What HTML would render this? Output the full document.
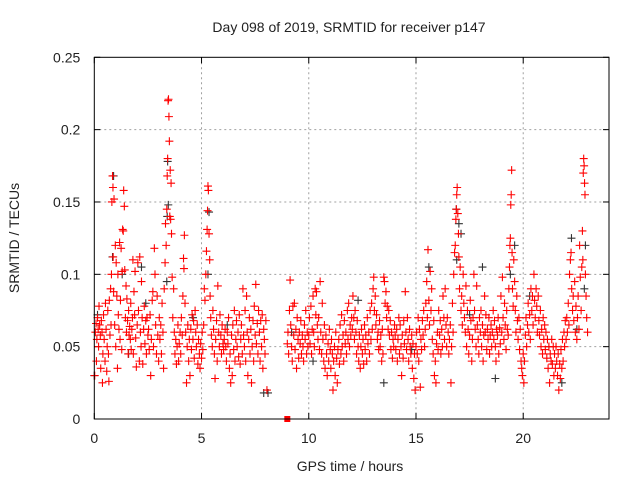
<!DOCTYPE html>
<html><head><meta charset="utf-8">
<style>
html,body{margin:0;padding:0;background:#fff;}
svg{display:block;font-family:"Liberation Sans",Arial,sans-serif;}
</style></head>
<body>
<svg id="chart" width="640" height="480" viewBox="0 0 640 480" xmlns="http://www.w3.org/2000/svg">
<rect x="0" y="0" width="640" height="480" fill="#fff"/>
<g id="grid"></g>
<g id="ticks"></g>
<g id="series-gray"></g>
<g id="series-red"></g>
<rect x="94.3" y="57.3" width="514.7" height="361.7" fill="none" stroke="#000" stroke-width="1"/>
<text x="349" y="32" font-size="14" text-anchor="middle" fill="#222">Day 098 of 2019, SRMTID for receiver p147</text>
<text x="350" y="471" font-size="14" text-anchor="middle" fill="#222">GPS time / hours</text>
<text x="0" y="0" font-size="14" text-anchor="middle" fill="#222" transform="translate(19,238) rotate(-90)">SRMTID / TECUs</text>
</svg>
<script>
const xTicks = [0,5,10,15,20];
const yTicks = [0,0.05,0.1,0.15,0.2,0.25];
const yTickLabels = ["0","0.05","0.1","0.15","0.2","0.25"];
const redHours = [0.02,0.05,0.08,0.1,0.12,0.15,0.18,0.2,0.22,0.25,0.28,0.3,0.33,0.36,0.38,0.4,0.43,0.46,0.5,0.52,0.55,0.58,0.6,0.63,0.66,0.68,0.7,0.73,0.76,0.78,0.8,0.82,0.85,0.87,0.88,0.9,0.92,0.95,0.98,1.0,
1.02,1.05,1.08,1.1,1.12,1.15,1.18,1.2,1.22,1.25,1.28,1.3,1.32,1.35,1.37,1.4,1.42,1.45,1.48,1.5,1.52,1.55,1.58,1.6,1.62,1.65,1.68,1.7,1.72,1.75,1.78,1.8,1.82,1.85,1.88,1.9,1.93,1.96,2.0,
2.03,2.06,2.1,2.12,2.15,2.18,2.2,2.23,2.26,2.3,2.33,2.36,2.4,2.43,2.46,2.5,2.53,2.56,2.6,2.63,2.66,2.7,2.73,2.76,2.8,2.83,2.86,2.9,2.93,2.96,3.0,
3.03,3.06,3.1,3.13,3.16,3.2,3.23,3.26,3.3,3.32,3.35,3.38,3.4,3.42,3.44,3.46,3.48,3.5,3.52,3.54,3.56,3.58,3.6,3.63,3.66,3.7,3.73,3.76,3.8,3.83,3.86,3.9,3.93,3.96,4.0,
4.03,4.06,4.1,4.13,4.16,4.18,4.2,4.23,4.26,4.3,4.33,4.36,4.4,4.43,4.46,4.5,4.53,4.56,4.6,4.63,4.66,4.7,4.73,4.76,4.8,4.83,4.86,4.9,4.93,4.96,5.0,
5.03,5.06,5.1,5.13,5.16,5.2,5.23,5.26,5.28,5.3,5.32,5.35,5.38,5.4,5.43,5.46,5.5,5.53,5.56,5.6,5.63,5.66,5.7,5.73,5.76,5.8,5.83,5.86,5.9,5.93,5.96,6.0,
6.03,6.06,6.1,6.13,6.16,6.2,6.23,6.26,6.3,6.33,6.36,6.4,6.43,6.46,6.5,6.53,6.56,6.6,6.63,6.66,6.7,6.73,6.76,6.8,6.83,6.86,6.9,6.93,6.96,7.0,
7.03,7.06,7.1,7.13,7.16,7.2,7.23,7.26,7.3,7.33,7.36,7.4,7.43,7.46,7.5,7.53,7.56,7.6,7.63,7.66,7.7,7.73,7.76,7.8,7.83,7.86,7.9,7.93,7.96,8.0,8.05,
9.0,9.03,9.06,9.1,9.13,9.16,9.2,9.23,9.26,9.3,9.33,9.36,9.4,9.43,9.46,9.5,9.53,9.56,9.6,9.63,9.66,9.7,9.73,9.76,9.8,9.83,9.86,9.9,9.93,9.96,10.0,
10.03,10.06,10.1,10.13,10.16,10.2,10.23,10.26,10.3,10.33,10.36,10.4,10.43,10.46,10.5,10.53,10.56,10.6,10.63,10.66,10.7,10.73,10.76,10.8,10.83,10.86,10.9,10.93,10.96,11.0,
11.03,11.06,11.1,11.13,11.16,11.2,11.23,11.26,11.3,11.33,11.36,11.4,11.43,11.46,11.5,11.53,11.56,11.6,11.63,11.66,11.7,11.73,11.76,11.8,11.83,11.86,11.9,11.93,11.96,12.0,
12.03,12.06,12.1,12.13,12.16,12.2,12.23,12.26,12.3,12.33,12.36,12.4,12.43,12.46,12.5,12.53,12.56,12.6,12.63,12.66,12.7,12.73,12.76,12.8,12.83,12.86,12.9,12.93,12.96,13.0,
13.03,13.06,13.1,13.13,13.16,13.2,13.23,13.26,13.3,13.33,13.36,13.4,13.43,13.46,13.5,13.53,13.56,13.6,13.63,13.66,13.7,13.73,13.76,13.8,13.83,13.86,13.9,13.93,13.96,14.0,
14.03,14.06,14.1,14.13,14.16,14.2,14.23,14.26,14.3,14.33,14.36,14.4,14.43,14.46,14.5,14.53,14.56,14.6,14.63,14.66,14.7,14.73,14.76,14.8,14.83,14.86,14.9,14.93,14.96,15.0,
15.03,15.06,15.1,15.13,15.16,15.2,15.23,15.26,15.3,15.33,15.36,15.4,15.43,15.46,15.5,15.53,15.56,15.6,15.63,15.66,15.7,15.73,15.76,15.8,15.83,15.86,15.9,15.93,15.96,16.0,
16.03,16.06,16.1,16.13,16.16,16.2,16.23,16.26,16.3,16.33,16.36,16.4,16.43,16.46,16.5,16.53,16.56,16.6,16.63,16.66,16.7,16.73,16.76,16.8,16.83,16.86,16.88,16.9,16.92,16.95,16.98,17.0,
17.03,17.06,17.1,17.13,17.16,17.2,17.23,17.26,17.3,17.33,17.36,17.4,17.43,17.46,17.5,17.53,17.56,17.6,17.63,17.66,17.7,17.73,17.76,17.8,17.83,17.86,17.9,17.93,17.96,18.0,
18.03,18.06,18.1,18.13,18.16,18.2,18.23,18.26,18.3,18.33,18.36,18.4,18.43,18.46,18.5,18.53,18.56,18.6,18.63,18.66,18.7,18.73,18.76,18.8,18.83,18.86,18.9,18.93,18.96,19.0,
19.03,19.06,19.1,19.13,19.16,19.2,19.23,19.26,19.3,19.33,19.36,19.38,19.4,19.42,19.44,19.46,19.48,19.5,19.53,19.56,19.6,19.63,19.66,19.7,19.73,19.76,19.8,19.83,19.86,19.9,19.93,19.96,20.0,
20.03,20.06,20.1,20.13,20.16,20.2,20.23,20.26,20.3,20.33,20.36,20.4,20.43,20.46,20.5,20.53,20.56,20.6,20.63,20.66,20.7,20.73,20.76,20.8,20.83,20.86,20.9,20.93,20.96,21.0,
21.03,21.06,21.1,21.13,21.16,21.2,21.23,21.26,21.3,21.33,21.36,21.4,21.43,21.46,21.5,21.53,21.56,21.6,21.63,21.66,21.7,21.73,21.76,21.8,21.83,21.86,21.9,21.93,21.96,22.0,
22.03,22.06,22.1,22.13,22.16,22.2,22.23,22.26,22.3,22.33,22.36,22.4,22.43,22.46,22.5,22.53,22.56,22.6,22.63,22.66,22.7,22.73,22.76,22.78,22.8,22.82,22.84,22.86,22.88,22.9,22.93,22.96,23.0];
const redTec = [0.03,0.06,0.066,0.04,0.055,0.07,0.062,0.05,0.078,0.065,0.058,0.035,0.068,0.06,0.025,0.045,0.072,0.055,0.04,0.08,0.062,0.033,0.05,0.075,0.045,0.026,0.082,0.058,0.09,0.065,0.1,0.15,0.168,0.16,0.112,0.088,0.152,0.065,0.12,0.05,
0.108,0.085,0.035,0.1,0.072,0.062,0.122,0.055,0.082,0.118,0.048,0.102,0.131,0.13,0.158,0.147,0.103,0.07,0.092,0.06,0.083,0.068,0.045,0.075,0.058,0.064,0.055,0.08,0.048,0.062,0.07,0.11,0.045,0.088,0.072,0.102,0.056,0.036,0.065,
0.108,0.075,0.04,0.112,0.06,0.05,0.095,0.07,0.038,0.062,0.078,0.052,0.068,0.045,0.07,0.058,0.062,0.048,0.072,0.03,0.055,0.082,0.088,0.05,0.118,0.1,0.065,0.045,0.085,0.058,0.04,
0.07,0.055,0.065,0.045,0.08,0.06,0.035,0.09,0.108,0.135,0.12,0.145,0.168,0.18,0.22,0.221,0.209,0.192,0.14,0.172,0.138,0.163,0.128,0.098,0.07,0.09,0.06,0.045,0.055,0.038,0.05,0.065,0.04,0.052,0.06,
0.045,0.07,0.058,0.085,0.111,0.104,0.127,0.08,0.06,0.025,0.05,0.065,0.04,0.055,0.03,0.062,0.048,0.072,0.055,0.068,0.042,0.075,0.06,0.05,0.065,0.038,0.055,0.045,0.035,0.052,0.042,
0.06,0.048,0.065,0.09,0.082,0.1,0.116,0.131,0.144,0.161,0.158,0.128,0.11,0.085,0.07,0.058,0.05,0.075,0.062,0.045,0.028,0.055,0.068,0.04,0.092,0.06,0.05,0.072,0.058,0.045,0.065,0.052,
0.048,0.055,0.062,0.05,0.04,0.06,0.052,0.07,0.035,0.045,0.025,0.058,0.03,0.065,0.048,0.075,0.04,0.055,0.068,0.05,0.06,0.043,0.072,0.038,0.055,0.065,0.045,0.09,0.058,0.05,
0.075,0.04,0.085,0.06,0.03,0.055,0.07,0.045,0.062,0.025,0.05,0.068,0.04,0.078,0.058,0.093,0.052,0.066,0.045,0.075,0.06,0.04,0.068,0.05,0.072,0.035,0.062,0.055,0.045,0.068,0.02,
0.052,0.06,0.045,0.075,0.096,0.065,0.05,0.04,0.078,0.058,0.08,0.048,0.062,0.035,0.07,0.055,0.042,0.06,0.052,0.068,0.045,0.058,0.05,0.04,0.065,0.055,0.075,0.045,0.06,0.05,0.058,
0.07,0.052,0.078,0.045,0.062,0.085,0.06,0.05,0.09,0.072,0.088,0.065,0.055,0.07,0.048,0.095,0.06,0.045,0.08,0.055,0.04,0.065,0.035,0.058,0.045,0.03,0.052,0.04,0.062,0.048,
0.035,0.055,0.045,0.02,0.04,0.05,0.03,0.06,0.042,0.025,0.048,0.055,0.038,0.065,0.045,0.072,0.05,0.058,0.04,0.068,0.052,0.06,0.045,0.075,0.055,0.08,0.05,0.065,0.058,0.07,
0.062,0.085,0.07,0.055,0.075,0.06,0.045,0.068,0.05,0.04,0.058,0.035,0.05,0.062,0.045,0.055,0.038,0.065,0.048,0.058,0.04,0.07,0.052,0.06,0.045,0.075,0.055,0.08,0.062,0.09,
0.098,0.075,0.085,0.065,0.072,0.055,0.06,0.048,0.068,0.05,0.058,0.04,0.062,0.045,0.098,0.095,0.08,0.088,0.07,0.078,0.062,0.075,0.058,0.068,0.048,0.06,0.042,0.055,0.05,0.065,
0.058,0.048,0.062,0.04,0.055,0.07,0.045,0.065,0.05,0.03,0.058,0.042,0.068,0.052,0.088,0.06,0.048,0.07,0.055,0.04,0.062,0.05,0.045,0.058,0.035,0.052,0.028,0.045,0.02,0.05,
0.06,0.045,0.07,0.04,0.062,0.022,0.055,0.048,0.068,0.058,0.075,0.05,0.062,0.08,0.095,0.07,0.117,0.082,0.065,0.102,0.075,0.09,0.055,0.045,0.068,0.03,0.04,0.025,0.052,0.06,
0.048,0.075,0.058,0.068,0.045,0.062,0.05,0.085,0.07,0.055,0.09,0.065,0.05,0.07,0.06,0.045,0.055,0.065,0.025,0.05,0.08,0.06,0.1,0.115,0.12,0.138,0.145,0.155,0.16,0.142,0.128,0.112,
0.09,0.105,0.075,0.085,0.065,0.1,0.08,0.07,0.06,0.092,0.05,0.075,0.062,0.045,0.058,0.082,0.068,0.04,0.055,0.07,0.1,0.075,0.062,0.05,0.092,0.065,0.055,0.045,0.07,0.06,
0.075,0.05,0.065,0.04,0.058,0.085,0.06,0.072,0.048,0.062,0.055,0.07,0.045,0.058,0.065,0.05,0.06,0.075,0.055,0.068,0.05,0.04,0.062,0.058,0.07,0.045,0.063,0.052,0.085,0.06,
0.098,0.07,0.055,0.08,0.065,0.048,0.075,0.062,0.058,0.09,0.105,0.12,0.125,0.148,0.155,0.172,0.115,0.09,0.078,0.11,0.095,0.075,0.06,0.085,0.068,0.055,0.07,0.048,0.062,0.04,0.035,0.03,0.045,
0.025,0.04,0.058,0.07,0.05,0.065,0.08,0.06,0.072,0.055,0.09,0.075,0.085,0.065,0.1,0.082,0.07,0.09,0.078,0.06,0.085,0.068,0.058,0.075,0.05,0.062,0.045,0.07,0.055,0.065,
0.048,0.06,0.042,0.055,0.035,0.05,0.025,0.045,0.04,0.055,0.038,0.05,0.03,0.045,0.035,0.05,0.04,0.03,0.045,0.02,0.038,0.028,0.048,0.035,0.055,0.04,0.06,0.05,0.068,0.055,
0.07,0.06,0.08,0.065,0.1,0.11,0.115,0.09,0.075,0.085,0.068,0.095,0.06,0.078,0.055,0.07,0.085,0.062,0.12,0.098,0.075,0.105,0.13,0.11,0.17,0.18,0.175,0.163,0.155,0.1,0.085,0.07,0.06];
const grayHours = [0.0,0.15,0.85,0.9,1.3,1.6,2.2,2.4,3.38,3.4,3.42,3.45,4.6,5.3,5.35,6.2,7.9,8.1,9.2,10.2,12.3,13.5,14.8,15.6,16.88,16.9,17.0,17.1,17.5,18.1,18.7,19.4,19.6,20.3,21.2,21.8,22.25,22.5,22.85,22.9];
const grayTec = [0.03,0.072,0.112,0.168,0.1,0.045,0.105,0.08,0.095,0.14,0.178,0.148,0.07,0.1,0.143,0.065,0.018,0.018,0.06,0.04,0.082,0.025,0.048,0.105,0.145,0.11,0.135,0.128,0.072,0.105,0.028,0.1,0.12,0.085,0.05,0.025,0.125,0.062,0.09,0.12];
const outlierHours = [9.0];
const outlierTec = [0.0];

const L=94.3,R=609,T=57.3,B=419,XMAX=24,YMAX=0.25;
const sx=h=>L+(h/XMAX)*(R-L);
const sy=v=>B-(v/YMAX)*(B-T);
const NS="http://www.w3.org/2000/svg";
function mk(tag,attrs,parent){const e=document.createElementNS(NS,tag);for(const k in attrs)e.setAttribute(k,attrs[k]);parent.appendChild(e);return e;}
const grid=document.getElementById('grid'),ticks=document.getElementById('ticks');
xTicks.forEach((t,i)=>{
  const x=sx(t);
  if(t>0){const g=mk('line',{x1:x,y1:T,x2:x,y2:B,stroke:'#a0a0a0','stroke-dasharray':'2,3','stroke-width':1},grid);
    
    }
  const a=mk('line',{x1:x,y1:B,x2:x,y2:B-6,stroke:'#000'},ticks);
  
  
  const b=mk('line',{x1:x,y1:T,x2:x,y2:T+6,stroke:'#000'},ticks);
  
  
  const lb=mk('text',{x:x,y:B+24,'font-size':14,'text-anchor':'middle',fill:'#222'},ticks);
  lb.textContent=String(t);
  
  
});
yTicks.forEach((t,i)=>{
  const y=sy(t);
  if(t>0&&t<YMAX){const g=mk('line',{x1:L,y1:y,x2:R,y2:y,stroke:'#a0a0a0','stroke-dasharray':'2,3','stroke-width':1},grid);
    
    }
  const a=mk('line',{x1:L,y1:y,x2:L+6,y2:y,stroke:'#000'},ticks);
  
  
  const b=mk('line',{x1:R,y1:y,x2:R-6,y2:y,stroke:'#000'},ticks);
  
  
  const lb=mk('text',{x:L-14,y:y+5,'font-size':14,'text-anchor':'end',fill:'#222'},ticks);
  lb.textContent=yTickLabels[i];
  
  
});
function plus(parent,h,v,color){
  const x=sx(h),y=sy(v);
  const p=mk('path',{d:`M${x-4} ${y}H${x+4}M${x} ${y-4}V${y+4}`,stroke:color,'stroke-width':1.1,fill:'none'},parent);
  
  
}
const gg=document.getElementById('series-gray'),gr=document.getElementById('series-red');
grayHours.forEach((h,i)=>plus(gg,h,grayTec[i],'#333333'));
redHours.forEach((h,i)=>plus(gr,h,redTec[i],'#ff0000'));
outlierHours.forEach((h,i)=>{
  const s=mk('rect',{x:sx(h)-3,y:sy(outlierTec[i])-3,width:6,height:6,fill:'#ff0000'},gr);
  
  
});
</script>
</body></html>
